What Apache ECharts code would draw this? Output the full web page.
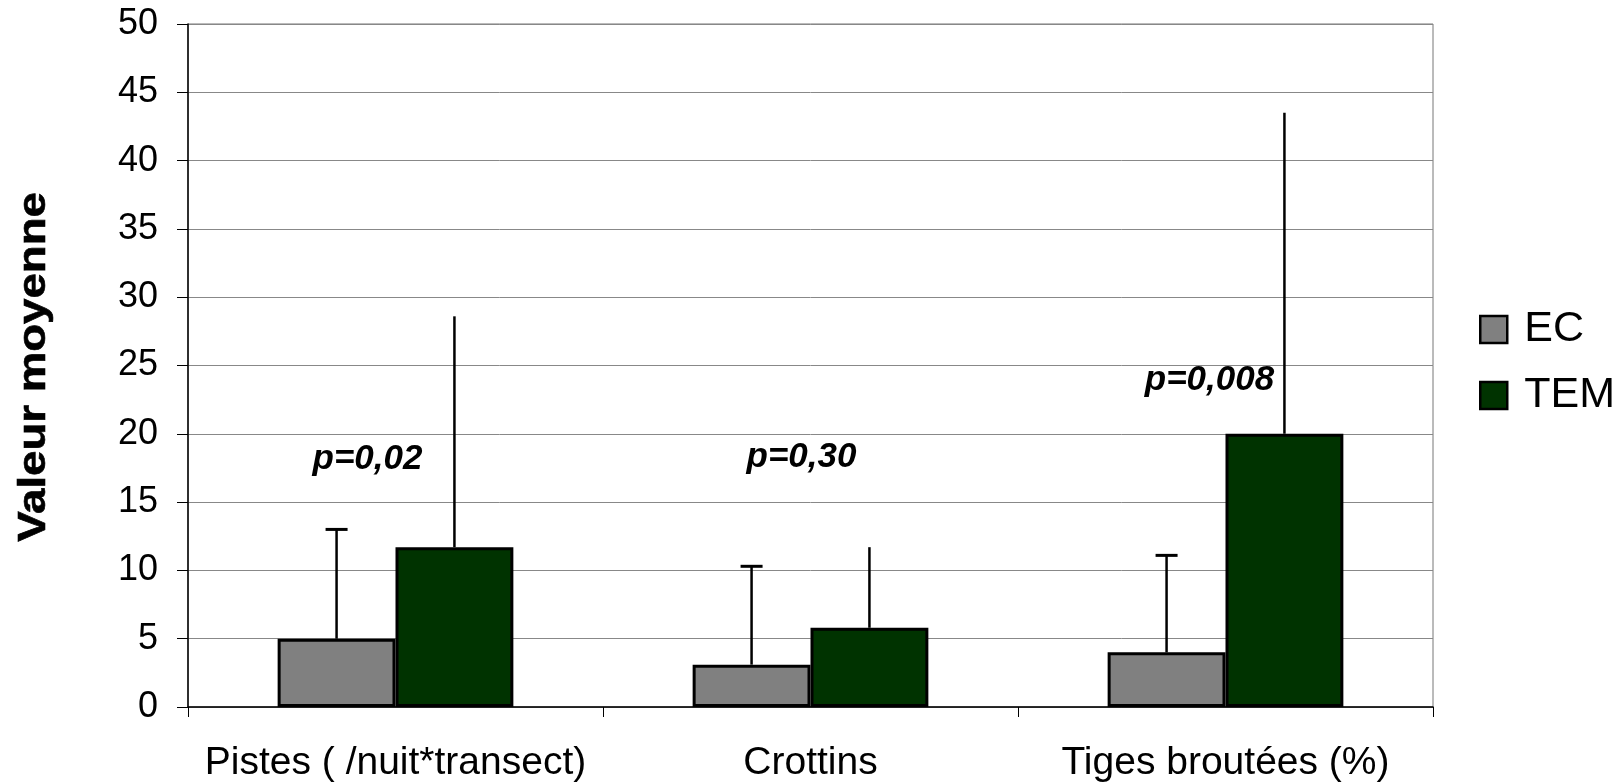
<!DOCTYPE html>
<html>
<head>
<meta charset="utf-8">
<script src="https://cdn.jsdelivr.net/npm/echarts@6/dist/echarts.min.js"></script>
<style>
html,body{margin:0;padding:0;background:#fff;}
#main{width:1621px;height:784px;}
</style>
</head>
<body>
<div id="main"></div>
<script>
// ---- data ----
const categories = ['Pistes ( /nuit*transect)', 'Crottins', 'Tiges broutées (%)'];
const seriesNames = ['EC', 'TEM'];
const ecMeans = [5.0, 3.1, 4.0];
const ecErrTop = [13.0, 10.3, 11.1];
const temMeans = [11.7, 5.8, 20.0];
const temErrTop = [28.6, 11.7, 43.5];
const pLabels = ['p=0,02', 'p=0,30', 'p=0,008'];
const pLabelY = [18.1, 18.3, 23.9];
const yTicks = [0, 5, 10, 15, 20, 25, 30, 35, 40, 45, 50];

// ---- styling (pixel offsets of the p-value texts from category centre) ----
const pLabelShift = [-28, -9, -16];

const FONT = '"Liberation Sans", Arial, sans-serif';
const BAR_FRAC = 0.284;

function errSeries(name, means, tops, side, cap) {
  return {
    type: 'custom',
    name: name + '_err',
    z: 5,
    silent: true,
    data: means.map((m, i) => [i, m, tops[i]]),
    renderItem: function (params, api) {
      const base = api.coord([api.value(0), api.value(1)]);
      const top = api.coord([api.value(0), api.value(2)]);
      const bandW = api.size([1, 0])[0];
      const x = base[0] + side * bandW * BAR_FRAC / 2;
      const children = [{
        type: 'line',
        shape: { x1: x, y1: base[1], x2: x, y2: top[1] },
        style: { stroke: '#000', lineWidth: 2.5 }
      }];
      if (cap) {
        children.push({
          type: 'line',
          shape: { x1: x - 11, y1: top[1], x2: x + 11, y2: top[1] },
          style: { stroke: '#000', lineWidth: 3 }
        });
      }
      return { type: 'group', children: children };
    }
  };
}

const chart = echarts.init(document.getElementById('main'), null, { renderer: 'canvas' });
chart.setOption({
  backgroundColor: '#fff',
  animation: false,
  textStyle: { fontFamily: FONT },
  grid: {
    left: 188, right: 188, top: 24, bottom: 77,
    show: true, borderColor: '#777', borderWidth: 1
  },
  legend: {
    data: seriesNames,
    orient: 'vertical',
    left: 1479,
    top: 308,
    padding: 0,
    itemGap: 23,
    itemWidth: 27,
    itemHeight: 27,
    icon: 'rect',
    itemStyle: { borderColor: '#000', borderWidth: 2.5 },
    textStyle: { fontSize: 43, color: '#000', fontFamily: FONT, padding: [0, 0, 0, 12] }
  },
  graphic: [{
    type: 'text',
    x: 35,
    y: 367,
    rotation: Math.PI / 2,
    scaleX: 1.2,
    style: {
      text: 'Valeur moyenne',
      font: 'bold 38px ' + FONT,
      fill: '#000',
      stroke: '#000',
      lineWidth: 0.6,
      align: 'center',
      verticalAlign: 'middle'
    }
  }],
  xAxis: {
    type: 'category',
    data: categories,
    axisLine: { lineStyle: { color: '#000', width: 1.5 } },
    axisTick: { show: true, length: 10, lineStyle: { color: '#000' } },
    axisLabel: { interval: 0, fontSize: 39, color: '#000', margin: 37, fontFamily: FONT }
  },
  yAxis: {
    type: 'value',
    min: 0, max: 50, interval: 5,
    axisLine: { show: true, lineStyle: { color: '#000', width: 1.5 } },
    axisTick: { show: true, length: 11, lineStyle: { color: '#000' } },
    axisLabel: {
      fontSize: 36, color: '#000', margin: 30, fontFamily: FONT,
      formatter: v => (yTicks.indexOf(v) >= 0 ? String(v) : '')
    },
    splitLine: { lineStyle: { color: '#888', width: 1 } }
  },
  series: [
    {
      name: 'EC', type: 'bar', data: ecMeans,
      barWidth: (BAR_FRAC * 100) + '%', barGap: '0%',
      itemStyle: { color: '#808080', borderColor: '#000', borderWidth: 3 }
    },
    {
      name: 'TEM', type: 'bar', data: temMeans,
      barWidth: (BAR_FRAC * 100) + '%', barGap: '0%',
      itemStyle: { color: '#003300', borderColor: '#000', borderWidth: 3 }
    },
    errSeries('EC', ecMeans, ecErrTop, -1, true),
    errSeries('TEM', temMeans, temErrTop, 1, false),
    {
      type: 'scatter',
      name: 'pvalues',
      symbolSize: 0,
      silent: true,
      z: 6,
      itemStyle: { opacity: 1 },
      data: pLabels.map((t, i) => ({
        value: [i, pLabelY[i], t],
        label: { offset: [pLabelShift[i], 0] }
      })),
      label: {
        show: true,
        position: 'inside',
        formatter: p => p.value[2],
        fontSize: 35,
        fontWeight: 'bold',
        fontStyle: 'italic',
        color: '#000',
        opacity: 1,
        fontFamily: FONT
      }
    }
  ]
});
</script>
</body>
</html>
